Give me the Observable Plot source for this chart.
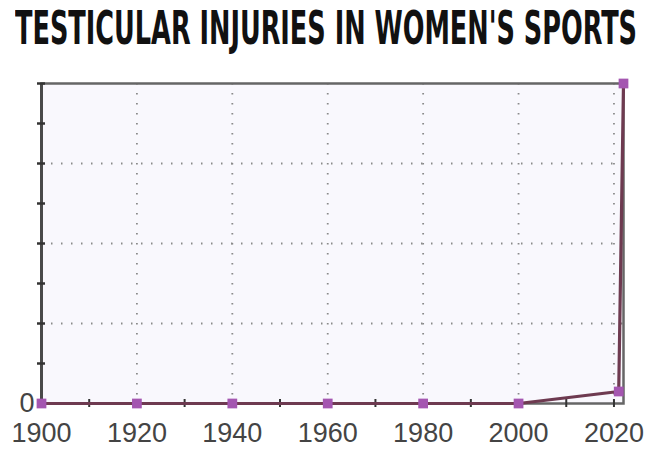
<!DOCTYPE html>
<html><head><meta charset="utf-8">
<script src="https://cdn.jsdelivr.net/npm/d3@7"></script>
<script src="https://cdn.jsdelivr.net/npm/@observablehq/plot@0.6"></script>
<style>
body{margin:0;background:#fff;}
svg{display:block}
#title{height:60px;width:649px;position:relative;overflow:hidden}
#title span{position:absolute;left:15px;top:2px;white-space:nowrap;font-family:'DejaVu Sans Condensed','Liberation Sans Narrow','Liberation Sans',sans-serif;font-weight:bold;font-size:46px;line-height:52px;color:#111;transform-origin:0 0;display:inline-block}
</style>
</head><body>
<div id="title"><span id="titleText"></span></div>
<div id="chart"></div>
<script>
const titleText = "TESTICULAR INJURIES IN WOMEN'S SPORTS";
const years = [1900, 1920, 1940, 1960, 1980, 2000, 2021, 2022];
const injuries = [0, 0, 0, 0, 0, 0, 0.3, 8];
const xLabelTicks = [1900, 1920, 1940, 1960, 1980, 2000, 2020];
const xMinorTicks = [1910, 1920, 1930, 1940, 1950, 1960, 1970, 1980, 1990, 2000, 2010, 2020];
const xGrid = [1920, 1940, 1960, 1980, 2000, 2020];
const yTicks = [0, 1, 2, 3, 4, 5, 6, 7, 8];
const yGrid = [2, 4, 6];
const yLabels = [0];

const ts = document.getElementById("titleText");
ts.textContent = titleText;
const w = ts.getBoundingClientRect().width;
ts.style.transform = `scaleX(${622 / w})`;

const data = years.map((y, i) => ({year: y, value: injuries[i]}));
const txt = "#444";

const chart = Plot.plot({
  width: 649,
  height: 396,
  marginTop: 23,
  marginBottom: 53,
  marginLeft: 41,
  marginRight: 26,
  style: {fontFamily: "'Liberation Sans', Arial, sans-serif", background: "#fff", overflow: "visible"},
  x: {domain: [1900, 2022], axis: null},
  y: {domain: [0, 8], axis: null},
  marks: [
    Plot.frame({fill: "#f9f8fd", stroke: null}),
    Plot.ruleX(xGrid, {stroke: "#8a8a8a", strokeWidth: 1.8, strokeDasharray: "1.5,8.5"}),
    Plot.ruleY(yGrid, {stroke: "#8a8a8a", strokeWidth: 1.8, strokeDasharray: "1.5,8.5"}),
    Plot.frame({stroke: "#666", strokeWidth: 2.5}),
    Plot.ruleX([1900], {stroke: "#4a4a4a", strokeWidth: 3}),
    Plot.axisY(yTicks, {tickSize: 8, dx: 4, fill: "none", stroke: "#333", strokeWidth: 2.5, label: null}),
    Plot.axisX(xMinorTicks, {tickSize: 8, dy: -4, fill: "none", stroke: "#333", strokeWidth: 2, label: null}),
    Plot.axisX(xLabelTicks, {tickSize: 0, tickPadding: 19, tickFormat: d => String(d), fontSize: 27, fill: txt, label: null}),
    Plot.axisY(yLabels, {tickSize: 0, tickPadding: 7, tickFormat: d => String(d), fontSize: 27, fill: txt, label: null}),
    Plot.line(data, {x: "year", y: "value", stroke: "#6e3a50", strokeWidth: 3.2}),
    Plot.dot(data, {x: "year", y: "value", symbol: "square", r: 5.5, fill: "#a456b0", stroke: null})
  ]
});
document.getElementById("chart").appendChild(chart);
</script>
</body></html>
